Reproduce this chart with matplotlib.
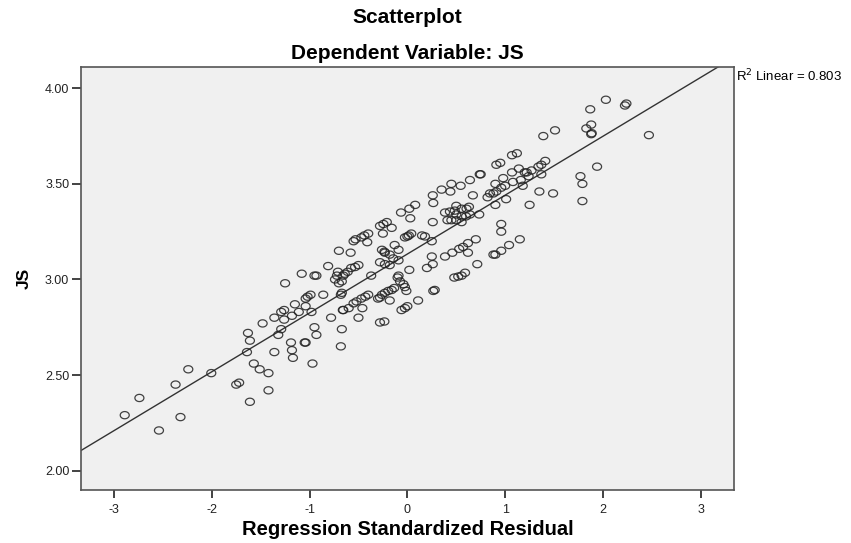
import numpy as np
import matplotlib
matplotlib.use("Agg")
import matplotlib.pyplot as plt
from matplotlib.path import Path

# Regression standardized residual (x) and JS (y)
resid = [
    -2.89, -2.74, -2.54, -2.37, -2.32, -2.24, -2.005, -1.75, -1.72, -1.61,
    -1.63, -1.61, -1.64, -1.57, -1.51, -1.42, -1.42, -1.48, -1.36, -1.36,
    -1.32, -1.29, -1.25, -1.29, -1.26, -1.26, -1.19, -1.18, -1.17, -1.18,
    -1.15, -1.11, -1.08, -1.05, -1.04, -1.04, -1.02, -1.04, -0.99, -0.98,
    -0.95, -0.93, -0.95, -0.93, -0.97, -0.86, -0.81, -0.78, -0.74, -0.68,
    -0.66, -0.67, -0.68, -0.70, -0.58,
    # middle band
    0.08, 0.02, -0.065, 0.03, -0.21, -0.245, -0.28, -0.16, -0.25, 0.04,
    -0.025, 0.00, 0.015, 0.15, 0.18, -0.40, -0.44, -0.47, -0.53, -0.55,
    -0.41, -0.26, -0.235, -0.23, -0.13, -0.09, -0.18, -0.145, -0.09, -0.28,
    -0.23, -0.18, -0.50, -0.535, -0.575, -0.61, -0.64, -0.655, -0.71, -0.72,
    -0.67, -0.70, -0.67, -0.37, -0.09, 0.02, -0.10, -0.075, -0.04, -0.025,
    -0.01, -0.135, -0.16, -0.195, -0.23, -0.26, -0.18, -0.28, -0.30, -0.40,
    -0.43, -0.47, -0.52, -0.55, -0.60, -0.655, -0.46, -0.50, -0.28, -0.235,
    -0.06, -0.025, 0.00, 0.11, 0.20,
    # right of centre
    1.12, 1.07, 0.91, 0.95, 0.75, 0.74, 1.14, 1.07, 0.98, 0.90,
    1.08, 1.16, 1.22, 1.24, 1.18, 0.64, 0.545, 0.45, 0.44, 0.35,
    0.26, 0.265, 0.67, 0.82, 0.845, 0.88, 0.91, 0.96, 1.00, 1.01,
    0.90, 1.25, 0.50, 0.555, 0.605, 0.63, 0.385, 0.435, 0.485, 0.50,
    0.555, 0.60, 0.64, 0.735, 0.41, 0.45, 0.50, 0.555, 0.26, 0.25,
    0.96, 0.96, 1.15, 1.04, 0.96, 0.90, 0.88, 0.70, 0.62, 0.57,
    0.53, 0.46, 0.385, 0.62, 0.715, 0.59, 0.555, 0.52, 0.48, 0.25,
    0.26, 0.265, 0.28,
    # upper right
    2.03, 1.87, 2.225, 2.24, 1.83, 1.88, 1.88, 1.885, 2.47, 1.94,
    1.77, 1.79, 1.79, 1.51, 1.49, 1.39, 1.20, 1.27, 1.34, 1.37,
    1.41, 1.37, 1.35,
]
js = [
    2.29, 2.38, 2.21, 2.45, 2.28, 2.53, 2.51, 2.45, 2.46, 2.36,
    2.72, 2.68, 2.62, 2.56, 2.53, 2.51, 2.42, 2.77, 2.80, 2.62,
    2.71, 2.74, 2.98, 2.83, 2.84, 2.79, 2.67, 2.63, 2.59, 2.81,
    2.87, 2.83, 3.03, 2.67, 2.67, 2.90, 2.91, 2.86, 2.92, 2.83,
    3.02, 3.02, 2.75, 2.71, 2.56, 2.92, 3.07, 2.80, 3.00, 2.92,
    2.84, 2.74, 2.65, 3.15, 3.14,
    # middle band
    3.39, 3.37, 3.35, 3.32, 3.30, 3.29, 3.28, 3.27, 3.24, 3.24,
    3.22, 3.225, 3.23, 3.23, 3.225, 3.24, 3.23, 3.22, 3.21, 3.20,
    3.195, 3.155, 3.145, 3.14, 3.18, 3.155, 3.13, 3.11, 3.10, 3.09,
    3.08, 3.075, 3.075, 3.065, 3.06, 3.04, 3.03, 3.02, 3.04, 3.02,
    2.99, 2.98, 2.93, 3.02, 3.02, 3.05, 3.01, 2.99, 2.975, 2.96,
    2.94, 2.955, 2.945, 2.94, 2.93, 2.92, 2.89, 2.905, 2.90, 2.92,
    2.91, 2.90, 2.885, 2.875, 2.85, 2.84, 2.85, 2.80, 2.775, 2.78,
    2.84, 2.85, 2.86, 2.89, 3.06,
    # right of centre
    3.66, 3.65, 3.60, 3.61, 3.55, 3.55, 3.58, 3.56, 3.53, 3.50,
    3.51, 3.52, 3.56, 3.54, 3.49, 3.52, 3.49, 3.50, 3.46, 3.47,
    3.44, 3.40, 3.44, 3.43, 3.45, 3.45, 3.46, 3.48, 3.49, 3.42,
    3.39, 3.39, 3.385, 3.37, 3.37, 3.38, 3.35, 3.355, 3.36, 3.34,
    3.33, 3.33, 3.34, 3.34, 3.31, 3.31, 3.31, 3.30, 3.30, 3.20,
    3.29, 3.25, 3.21, 3.18, 3.15, 3.13, 3.13, 3.21, 3.19, 3.17,
    3.16, 3.14, 3.12, 3.14, 3.08, 3.035, 3.02, 3.015, 3.01, 3.12,
    3.08, 2.94, 2.945,
    # upper right
    3.94, 3.89, 3.91, 3.92, 3.79, 3.81, 3.76, 3.765, 3.755, 3.59,
    3.54, 3.50, 3.41, 3.78, 3.45, 3.75, 3.56, 3.57, 3.59, 3.60,
    3.62, 3.55, 3.46,
]

# fit line as drawn in the reference
fit_intercept = 3.133
fit_slope = 0.308
r2_text = "R$^2$ Linear = 0.803"

x_ticks = [-3, -2, -1, 0, 1, 2, 3]
y_ticks = [2.0, 2.5, 3.0, 3.5, 4.0]

plt.rcParams["font.family"] = ["Liberation Sans", "DejaVu Sans"]

# the SPSS export is a bit stretched sideways, so the circles are slightly wide
t = np.linspace(0, 2 * np.pi, 60)
wide_circle = Path(np.column_stack([1.25 * np.cos(t), np.sin(t)]), closed=True)

fig = plt.figure(figsize=(8.51, 5.43), dpi=100)
ax = fig.add_axes([0.0952, 0.0967, 0.7673, 0.7805])
ax.set_facecolor("#f0f0f0")

ax.scatter(resid, js, s=42, marker=wide_circle, facecolors="none",
           edgecolors="#222222", linewidths=0.9, alpha=0.85, zorder=3)

xlim = (-3.337, 3.34)
ax.set_xlim(xlim)
ax.set_ylim(1.896, 4.113)
xs = np.array(xlim)
ax.plot(xs, fit_intercept + fit_slope * xs, color="#333333", linewidth=1.0, zorder=2)

ax.set_xticks(x_ticks)
ax.set_xticklabels([str(v) for v in x_ticks])
ax.set_yticks(y_ticks)
ax.set_yticklabels([f"{v:.2f}" for v in y_ticks])
ax.tick_params(direction="out", width=1.2, color="#222222",
               labelsize=9, labelcolor="#222222", top=False, right=False)
ax.tick_params(axis="x", length=5.5, pad=4)
ax.tick_params(axis="y", length=6.5, pad=2)
for spine in ax.spines.values():
    spine.set_color("#555555")
    spine.set_linewidth(1.2)

ax.set_xlabel("Regression Standardized Residual", fontsize=14.5, fontweight="bold")
ax.xaxis.set_label_coords(0.5, -0.091)
ax.xaxis.label.set_va("center")
ax.set_ylabel("JS", fontsize=12.5, fontweight="bold")
ax.yaxis.set_label_coords(-0.087, 0.5)
ax.yaxis.label.set_va("center")

fig.text(0.479, 0.967, "Scatterplot", ha="center", va="center", fontsize=15, fontweight="bold")
fig.text(0.479, 0.902, "Dependent Variable: JS", ha="center", va="center", fontsize=15, fontweight="bold")
ax.text(1.003, 0.978, r2_text, transform=ax.transAxes, ha="left", va="center", fontsize=9.5)

fig.savefig("out.png", dpi=100)
